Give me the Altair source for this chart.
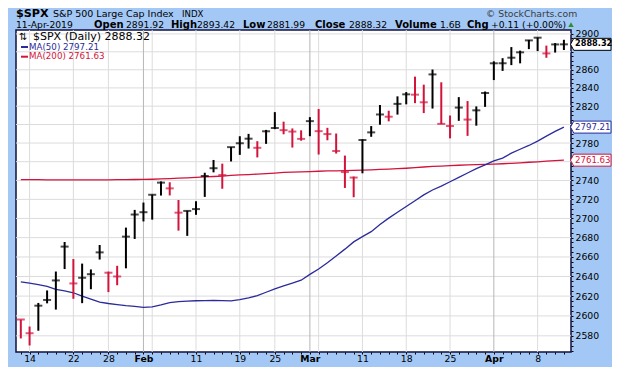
import altair as alt
import pandas as pd

# ---------------- data ----------------
dates = ["2019-01-11", "2019-01-14", "2019-01-15", "2019-01-16", "2019-01-17", "2019-01-18",
         "2019-01-22", "2019-01-23", "2019-01-24", "2019-01-25", "2019-01-28", "2019-01-29",
         "2019-01-30", "2019-01-31", "2019-02-01", "2019-02-04", "2019-02-05", "2019-02-06",
         "2019-02-07", "2019-02-08", "2019-02-11", "2019-02-12", "2019-02-13", "2019-02-14",
         "2019-02-15", "2019-02-19", "2019-02-20", "2019-02-21", "2019-02-22", "2019-02-25",
         "2019-02-26", "2019-02-27", "2019-02-28", "2019-03-01", "2019-03-04", "2019-03-05",
         "2019-03-06", "2019-03-07", "2019-03-08", "2019-03-11", "2019-03-12", "2019-03-13",
         "2019-03-14", "2019-03-15", "2019-03-18", "2019-03-19", "2019-03-20", "2019-03-21",
         "2019-03-22", "2019-03-25", "2019-03-26", "2019-03-27", "2019-03-28", "2019-03-29",
         "2019-04-01", "2019-04-02", "2019-04-03", "2019-04-04", "2019-04-05", "2019-04-08",
         "2019-04-09", "2019-04-10", "2019-04-11"]
highs = [2596.27, 2589.32, 2613.08, 2625.76, 2645.06, 2675.47, 2657.88, 2653.19, 2647.20, 2672.38,
         2644.97, 2650.93, 2690.44, 2708.95, 2716.66, 2724.99, 2738.98, 2738.08, 2719.32, 2708.07,
         2718.05, 2748.19, 2761.85, 2757.90, 2775.66, 2787.33, 2789.88, 2781.99, 2794.20, 2813.49,
         2803.12, 2795.76, 2793.73, 2808.02, 2816.88, 2796.44, 2790.27, 2766.53, 2744.13, 2784.00,
         2798.32, 2821.24, 2815.00, 2830.73, 2835.41, 2852.42, 2843.54, 2860.31, 2846.16, 2809.79,
         2829.87, 2825.56, 2819.71, 2836.03, 2869.40, 2872.90, 2885.25, 2881.28, 2893.24, 2895.95,
         2886.88, 2889.71, 2893.42]
lows = [2577.40, 2570.41, 2585.10, 2612.68, 2606.36, 2647.58, 2617.27, 2612.86, 2627.01, 2657.33,
        2624.06, 2631.05, 2648.34, 2678.65, 2696.88, 2698.75, 2724.03, 2724.15, 2687.26, 2681.83,
        2703.79, 2722.61, 2748.63, 2731.23, 2760.24, 2767.29, 2774.06, 2764.55, 2779.11, 2794.99,
        2789.47, 2775.13, 2782.51, 2787.38, 2767.66, 2782.97, 2768.69, 2732.08, 2722.27, 2747.61,
        2786.73, 2799.78, 2803.46, 2810.79, 2821.99, 2823.27, 2812.43, 2817.38, 2800.47, 2785.02,
        2803.99, 2787.72, 2798.77, 2819.23, 2848.63, 2858.75, 2865.17, 2867.14, 2882.99, 2880.78,
        2873.33, 2879.13, 2881.99]
closes = [2596.26, 2582.61, 2610.30, 2616.10, 2635.96, 2670.71, 2632.90, 2638.70, 2642.33, 2664.76,
          2643.85, 2640.00, 2681.05, 2704.10, 2706.53, 2724.87, 2737.70, 2731.61, 2706.05, 2707.88,
          2709.80, 2744.73, 2753.03, 2745.73, 2775.60, 2779.76, 2784.70, 2774.88, 2792.67, 2796.11,
          2793.90, 2792.38, 2784.49, 2803.69, 2792.81, 2789.65, 2771.45, 2748.93, 2743.07, 2783.30,
          2791.52, 2810.92, 2808.48, 2822.48, 2832.94, 2832.57, 2824.23, 2854.88, 2800.71, 2798.36,
          2818.46, 2805.37, 2815.44, 2834.40, 2867.19, 2867.24, 2873.40, 2879.39, 2892.74, 2895.77,
          2878.20, 2888.21, 2888.32]
prev_close = 2596.64
ma50 = [2634.4, 2633.2, 2631.7, 2629.8, 2626.8, 2625.3, 2623.4, 2619.9, 2617.0, 2614.0,
        2612.5, 2611.4, 2610.4, 2609.6, 2608.6, 2609.1, 2611.1, 2613.5, 2614.5, 2615.0,
        2615.3, 2615.5, 2615.7, 2615.5, 2615.2, 2616.5, 2618.3, 2620.4, 2623.9, 2627.3,
        2630.3, 2633.2, 2636.2, 2642.1, 2647.6, 2654.0, 2661.0, 2668.1, 2675.6, 2681.1,
        2686.2, 2693.7, 2700.3, 2706.4, 2712.5, 2718.6, 2724.7, 2729.9, 2734.0, 2738.6,
        2743.2, 2747.9, 2752.5, 2756.6, 2760.8, 2763.9, 2769.1, 2773.3, 2777.4, 2782.1,
        2787.4, 2792.6, 2797.21]
ma200 = [2740.9, 2740.8, 2740.8, 2740.7, 2740.7, 2740.6, 2740.6, 2740.6, 2740.6, 2740.7,
         2740.7, 2740.8, 2740.9, 2741.0, 2741.1, 2741.3, 2741.6, 2742.0, 2742.5, 2742.8,
         2743.2, 2743.8, 2744.2, 2744.7, 2745.3, 2745.9, 2746.3, 2746.8, 2747.3, 2747.9,
         2748.5, 2748.9, 2749.2, 2749.5, 2749.8, 2750.1, 2750.3, 2750.5, 2750.7, 2750.9,
         2751.3, 2751.7, 2752.1, 2752.5, 2753.0, 2753.6, 2754.3, 2754.9, 2755.3, 2755.8,
         2756.2, 2756.5, 2756.8, 2757.1, 2757.4, 2757.8, 2758.3, 2758.8, 2759.4, 2759.9,
         2760.5, 2761.1, 2761.63]

last_close = 2888.32
last_ma50 = 2797.21
last_ma200 = 2761.63

y_label_values = [2580, 2600, 2620, 2640, 2660, 2680, 2700, 2720, 2740, 2760, 2780, 2800,
                  2820, 2840, 2860, 2880, 2900]
y_hidden_labels = [2760, 2800, 2880]   # covered by the value tags
y_minor_values = list(range(2565, 2905, 5))
x_label_idx = [1, 6, 10, 14, 20, 25, 29, 33, 39, 44, 49, 54, 59]
x_label_text = ["14", "22", "28", "Feb", "11", "19", "25", "Mar", "11", "18", "25", "Apr", "8"]
month_idx = [14, 33, 54]
week_idx = [1, 6, 10, 15, 20, 25, 29, 34, 39, 44, 49, 59]

header_symbol = "$SPX"
header_name = "S&P 500 Large Cap Index"
header_exchange = "INDX"
header_date = "11-Apr-2019"
quote_labels = ["Open", "High", "Low", "Close", "Volume", "Chg"]
quote_values = ["2891.92", "2893.42", "2881.99", "2888.32", "1.6B", "+0.11 (+0.00%)"]
legend_main = "$SPX (Daily) 2888.32"
legend_ma50 = "MA(50) 2797.21"
legend_ma200 = "MA(200) 2761.63"
watermark = "\u00a9 StockCharts.com"

assert len(dates) == len(highs) == len(lows) == len(closes) == len(ma50) == len(ma200) == 63

# ---------------- styling / layout ----------------
FONT = "DejaVu Sans"
BLUE_BG = "#A3C8F5"
RED = "#D2143C"
NAVY = "#2B2B9C"
GRID = "#DCDCDC"
GRID_DARK = "#B6B6B6"
TOTAL_W, TOTAL_H = 604, 359
OX, OY = 16, 30           # plot origin in page pixels
W, H = 555, 322           # plot size
PAD = {"left": OX - 8, "top": OY - 8, "right": TOTAL_W - (OX - 8) - W,
       "bottom": TOTAL_H - (OY - 8) - H}

df = pd.DataFrame({"i": list(range(len(dates))), "date": dates, "high": highs, "low": lows,
                   "close": closes, "ma50": ma50, "ma200": ma200})
prev = [prev_close] + closes[:-1]
df["dir"] = ["down" if c < p else "up" for c, p in zip(closes, prev)]

xscale = alt.Scale(domain=[-0.55, 62.81], nice=False, zero=False)
yscale = alt.Scale(type="log", domain=[2563.9, 2904.4], nice=False)
color = alt.Color("dir:N", scale=alt.Scale(domain=["up", "down"], range=["#000000", RED]), legend=None)

x_expr = " : ".join(f"datum.value == {i} ? '{t}'" for i, t in zip(x_label_idx, x_label_text)) + " : ''"
bold_test = " || ".join(f"datum.value == {i}" for i in month_idx)
hidden_test = " || ".join(f"datum.value == {v}" for v in y_hidden_labels)
y_expr = f"(datum.value % 20 != 0 || {hidden_test}) ? '' : format(datum.value, 'd')"

x_axis = alt.Axis(values=list(range(len(dates))), labelExpr=x_expr, grid=False, domain=False,
                  tickSize=2, tickColor="#000000", labelPadding=0, labelFont=FONT, labelFontSize=9.3,
                  labelColor="#000000", labelBaseline="top", labelOverlap=False, labelFlush=False,
                  labelFontWeight={"condition": {"test": bold_test, "value": "bold"}, "value": "normal"},
                  title=None)
y_axis = alt.Axis(orient="right", values=y_minor_values, labelExpr=y_expr,
                  grid=False, domain=False, tickSize=2, tickColor="#000000", labelPadding=2,
                  labelFont=FONT, labelFontSize=9.3, labelColor="#000000", labelOverlap=False,
                  labelFlush=False, title=None)


def X(field):
    return alt.X(field, scale=xscale, axis=x_axis)


def Y(field):
    return alt.Y(field, scale=yscale, axis=y_axis)


base = alt.Chart(df)

grid_h = alt.Chart(pd.DataFrame({"v": y_label_values})).mark_rule(color=GRID, strokeWidth=1).encode(
    y=Y("v:Q"))
grid_w = alt.Chart(pd.DataFrame({"i": week_idx})).mark_rule(color=GRID, strokeWidth=1).encode(
    x=X("i:Q"))
grid_m = alt.Chart(pd.DataFrame({"i": month_idx})).mark_rule(color=GRID_DARK, strokeWidth=1).encode(
    x=X("i:Q"))

line200 = base.mark_line(color=RED, strokeWidth=1.3).encode(x=X("i:Q"), y=Y("ma200:Q"))
line50 = base.mark_line(color=NAVY, strokeWidth=1.3).encode(x=X("i:Q"), y=Y("ma50:Q"))

hl = base.mark_rule(strokeWidth=2).encode(x=X("i:Q"), y=Y("low:Q"), y2="high:Q", color=color)
ck = base.mark_tick(orient="horizontal", size=8, thickness=2).encode(
    x=X("i:Q"), y=Y("close:Q"), color=color)

one = pd.DataFrame({"k": [0]})


def txt(text, px, py, size, weight="normal", col="#000000", align="left", baseline="alphabetic"):
    return alt.Chart(one).mark_text(text=text, font=FONT, fontSize=size, fontWeight=weight, color=col,
                                    align=align, baseline=baseline).encode(
        x=alt.value(px - OX), y=alt.value(py - OY))


def dash(px1, px2, py, col):
    return alt.Chart(one).mark_rule(color=col, strokeWidth=2).encode(
        x=alt.value(px1 - OX), x2=alt.value(px2 - OX), y=alt.value(py - OY))


layers = [grid_h, grid_w, grid_m, line200, line50, hl, ck]

# header band
L1, L2 = 17.0, 28.2
layers.append(txt(header_symbol, 16, L1, 11.2, "bold"))
layers.append(txt(header_name, 53, L1, 9.5))
layers.append(txt(header_exchange, 182, L1, 8.6))
layers.append(txt(watermark, 486, L1, 9.3, col="#3C3C3C"))
layers.append(txt(header_date, 16, L2, 9.2))
label_x = [94, 171, 243, 315, 395, 467]
value_x = [126, 197, 267, 349, 440, 491]
for lab, val, lx, vx in zip(quote_labels, quote_values, label_x, value_x):
    layers.append(txt(lab, lx, L2, 10, "bold"))
    layers.append(txt(val, vx, L2, 9.2))
layers.append(alt.Chart(one).mark_point(shape="triangle-up", filled=True, size=30, color="#2F8F2F",
                                        opacity=1).encode(x=alt.value(571 - OX), y=alt.value(L2 - 3.5 - OY)))

# legend inside the plot (offsets from the plot top)
layers.append(txt("\u21c5", 19, OY + 9.7, 10))
layers.append(txt(legend_main, 33, OY + 9.7, 11))
layers.append(dash(21, 28, OY + 17, NAVY))
layers.append(txt(legend_ma50, 29, OY + 20.3, 8.7, col=NAVY))
layers.append(dash(21, 28, OY + 26.7, RED))
layers.append(txt(legend_ma200, 29, OY + 29.3, 8.7, col=RED))

# value tags on the right axis
TAG = "M0,0 L0.55,-1 L6.75,-1 L6.75,1 L0.55,1 Z"
for val, col, weight in [(last_close, "#000000", "bold"), (last_ma50, NAVY, "normal"),
                         (last_ma200, RED, "normal")]:
    tdf = pd.DataFrame({"v": [val], "t": [f"{val:.2f}"]})
    layers.append(alt.Chart(tdf).mark_point(shape=TAG, size=144, filled=False, fill="#FFFFFF",
                                            fillOpacity=1, stroke=col, strokeWidth=1, opacity=1).encode(
        x=alt.value(W - 0.5), y=Y("v:Q")))
    layers.append(alt.Chart(tdf).mark_text(font=FONT, fontSize=8.6 if weight == "normal" else 8.2,
                                           fontWeight=weight, color=col, align="left",
                                           baseline="middle").encode(
        x=alt.value(W + 4), y=Y("v:Q"), text="t:N"))

chart = alt.layer(*layers).properties(
    width=W, height=H,
    padding=PAD,
    autosize=alt.AutoSizeParams(type="none"),
    background=BLUE_BG,
).configure_view(fill="#FFFFFF", stroke="#101040", strokeWidth=1.5)

chart.save("out.html", embed_options={"renderer": "svg", "actions": False})
